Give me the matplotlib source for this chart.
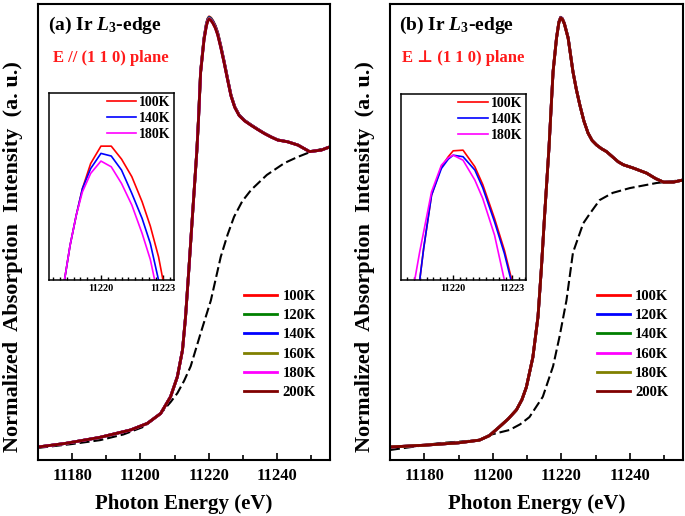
import numpy as np
import matplotlib
matplotlib.use('Agg')
import matplotlib.pyplot as plt
from matplotlib.ticker import MultipleLocator, AutoMinorLocator

plt.rcParams['font.family'] = ['Liberation Serif', 'DejaVu Serif']
plt.rcParams['font.weight'] = 'bold'
plt.rcParams['mathtext.fontset'] = 'custom'
plt.rcParams['mathtext.rm'] = 'Liberation Serif:bold'
plt.rcParams['mathtext.it'] = 'Liberation Serif:italic:bold'
plt.rcParams['mathtext.bf'] = 'Liberation Serif:bold'

# --- Daten ---
# (a) E // (1 1 0)
energy_a = [11170.0, 11178.0, 11188.0, 11197.1, 11202.0, 11205.9, 11208.8, 11210.8,
            11212.3, 11213.2, 11214.2, 11215.2, 11216.5, 11217.0, 11217.6, 11218.6,
            11219.3, 11219.7, 11220.1, 11220.6, 11221.2, 11221.9, 11222.6, 11223.5,
            11224.5, 11225.5, 11226.5, 11227.6, 11228.9, 11230.5, 11232.4, 11234.3,
            11236.3, 11238.3, 11240.2, 11243.1, 11246.1, 11249.5, 11252.9, 11255.5]
mu_a = [0.000, 0.012, 0.032, 0.057, 0.079, 0.112, 0.168, 0.235,
        0.324, 0.436, 0.600, 0.770, 0.990, 1.100, 1.255, 1.367,
        1.415, 1.431, 1.438, 1.434, 1.424, 1.408, 1.385, 1.342,
        1.289, 1.232, 1.177, 1.138, 1.110, 1.092, 1.077, 1.063,
        1.049, 1.037, 1.027, 1.021, 1.010, 0.988, 0.993, 1.004]
step_energy_a = [11170.0, 11180.0, 11188.2, 11195.0, 11201.0, 11205.9, 11208.8, 11210.8,
                 11212.8, 11214.7, 11217.6, 11220.6, 11223.5, 11225.5, 11227.4, 11229.8,
                 11232.4, 11237.0, 11242.2, 11246.0, 11250.0, 11255.5]
step_a = [-0.003, 0.010, 0.023, 0.042, 0.068, 0.112, 0.150, 0.180,
          0.222, 0.270, 0.380, 0.490, 0.636, 0.710, 0.770, 0.822,
          0.860, 0.910, 0.950, 0.970, 0.988, 1.004]

# (b) E senkrecht (1 1 0)
energy_b = [11170.0, 11180.0, 11190.0, 11196.1, 11199.0, 11202.0, 11204.5, 11206.9,
            11208.5, 11209.8, 11211.7, 11213.2, 11214.2, 11215.1, 11216.4, 11217.6,
            11218.6, 11219.3, 11219.8, 11220.3, 11220.9, 11222.0, 11223.4, 11224.4,
            11225.4, 11226.6, 11227.8, 11229.0, 11230.3, 11231.7, 11233.2, 11235.0,
            11236.6, 11238.1, 11241.0, 11244.9, 11247.5, 11249.8, 11252.7, 11255.5]
mu_b = [0.000, 0.006, 0.014, 0.023, 0.038, 0.068, 0.094, 0.124,
        0.158, 0.200, 0.300, 0.436, 0.600, 0.770, 1.000, 1.255,
        1.367, 1.420, 1.435, 1.431, 1.415, 1.367, 1.255, 1.195,
        1.144, 1.090, 1.050, 1.025, 1.010, 0.998, 0.988, 0.970,
        0.954, 0.944, 0.933, 0.916, 0.898, 0.886, 0.886, 0.893]
step_energy_b = [11170.0, 11184.4, 11196.1, 11199.0, 11204.9, 11208.0, 11210.7, 11214.6,
                 11217.6, 11219.5, 11221.5, 11223.4, 11226.4, 11228.3, 11231.2, 11235.0,
                 11240.0, 11247.8, 11255.5]
step_b = [-0.010, 0.013, 0.023, 0.040, 0.057, 0.076, 0.100, 0.168,
          0.270, 0.370, 0.490, 0.650, 0.748, 0.780, 0.826, 0.850,
          0.866, 0.883, 0.893]

temps = ['100K', '120K', '140K', '160K', '180K', '200K']
colors_a = ['#ff0000', '#008000', '#0000ff', '#808000', '#ff00ff', '#800000']
colors_b = ['#ff0000', '#0000ff', '#008000', '#ff00ff', '#808000', '#800000']
# Maximum der White-Line je Temperatur
peak_a = [1.439, 1.4375, 1.436, 1.434, 1.432, 1.431]
peak_b = [1.4375, 1.437, 1.4355, 1.435, 1.4352, 1.435]

# Inset-Daten (Bereich um das Maximum)
inset_temps = ['100K', '140K', '180K']
inset_colors = ['#ff0000', '#0000ff', '#ff00ff']
inset_energy_a = [11218.2, 11218.5, 11218.8, 11219.1, 11219.5, 11220.0, 11220.5,
                  11221.0, 11221.5, 11222.0, 11222.4, 11222.8, 11223.1]
inset_a = [
    [1.3765, 1.3939, 1.4076, 1.4197, 1.4311, 1.4390, 1.4390, 1.4331, 1.4251, 1.4137, 1.4026, 1.3886, 1.3739],
    [1.3765, 1.3939, 1.4076, 1.4197, 1.4288, 1.4357, 1.4345, 1.4281, 1.4175, 1.4061, 1.3947, 1.3780, 1.3666],
    [1.3765, 1.3939, 1.4076, 1.4182, 1.4266, 1.4322, 1.4296, 1.4220, 1.4122, 1.3993, 1.3874, 1.3697, 1.3575],
]
inset_energy_b = [11218.0, 11218.3, 11218.5, 11218.9, 11219.4, 11219.75, 11220.0,
                  11220.5, 11221.1, 11221.5, 11222.1, 11222.6, 11223.0]
inset_b = [
    [1.3696, 1.3780, 1.3925, 1.4169, 1.4299, 1.4345, 1.4372, 1.4375, 1.4299, 1.4218, 1.4062, 1.3917, 1.3772],
    [1.3696, 1.3780, 1.3925, 1.4169, 1.4291, 1.4334, 1.4352, 1.4345, 1.4284, 1.4203, 1.4047, 1.3902, 1.3757],
    [1.3757, 1.3910, 1.4001, 1.4184, 1.4306, 1.4340, 1.4352, 1.4329, 1.4238, 1.4154, 1.3986, 1.3780, 1.3635],
]

fig = plt.figure(figsize=(6.85, 5.16), dpi=100)


def panel(rect, inset_rect, energy, mu, step_e, step, colors, peaks,
          ie, idata, ixlim, title, subtitle, tx, sx):
    ax = fig.add_axes(rect)
    mu = np.array(mu)
    ref = mu.max()
    w = np.clip((mu - 1) / (ref - 1), 0, None)
    ax.plot(step_e, step, color='black', lw=1.5, ls=(0, (4.8, 1.9)))
    for t, c, p in zip(temps, colors, peaks):
        ax.plot(energy, mu + (p - ref) * w, color=c, lw=2.0, label=t)
    ax.set_xlim(11170, 11255.5)
    ax.set_ylim(-0.0435, 1.4816)
    ax.set_yticks([])
    ax.xaxis.set_major_locator(MultipleLocator(20))
    ax.xaxis.set_minor_locator(AutoMinorLocator(2))
    ax.tick_params(axis='x', which='major', direction='in', length=5, width=1.2,
                   labelsize=12, pad=6)
    ax.tick_params(axis='x', which='minor', direction='in', length=3.5, width=1.2)
    for s in ax.spines.values():
        s.set_linewidth(1.5)
    ax.set_xlabel('Photon Energy (eV)', fontsize=15, fontweight='bold', labelpad=7)
    ax.set_ylabel('Normalized  Absorption  Intensity  (a. u.)', fontsize=16,
                  fontweight='bold')
    ax.yaxis.set_label_coords(-0.05, 0.447)
    ax.text(tx, 0.943, title, transform=ax.transAxes, fontsize=14,
            fontweight='bold', va='baseline')
    ax.text(sx, 0.8816, subtitle, transform=ax.transAxes, fontsize=12,
            fontweight='bold', color='#ff1a1a', va='center')
    ax.legend(loc='upper left', bbox_to_anchor=(0.705, 0.374), frameon=False,
              fontsize=10.5, handlelength=2.3, handletextpad=0.35,
              labelspacing=0.42, borderpad=0, borderaxespad=0)

    ins = fig.add_axes(inset_rect)
    for t, c, y in zip(inset_temps, inset_colors, idata):
        ins.plot(ie, y, color=c, lw=1.2, label=t)
    ins.set_xlim(*ixlim)
    ins.set_ylim(1.378, 1.463)
    ins.set_yticks([])
    ins.xaxis.set_major_locator(MultipleLocator(3))
    ins.xaxis.set_minor_locator(AutoMinorLocator(9))
    ins.tick_params(axis='x', which='major', direction='in', length=3.5, width=1,
                    labelsize=7.5, pad=2.5)
    ins.tick_params(axis='x', which='minor', direction='in', length=2, width=1)
    ins.xaxis.set_major_formatter(plt.FuncFormatter(lambda v, p: '%d' % v))
    for s in ins.spines.values():
        s.set_linewidth(1.1)
    ins.legend(loc='upper left', bbox_to_anchor=(0.46, 0.985), frameon=False,
               fontsize=10, handlelength=2.1, handletextpad=0.25,
               labelspacing=0.22, borderpad=0, borderaxespad=0)
    return ax


panel([0.0555, 0.1085, 0.4263, 0.8837], [0.072, 0.457, 0.182, 0.362],
      energy_a, mu_a, step_energy_a, step_a, colors_a, peak_a,
      inset_energy_a, inset_a, (11217.49, 11223.55),
      r'(a) Ir $L_3$-edge', 'E // (1 1 0) plane', 0.034, 0.051)
panel([0.5693, 0.1085, 0.4277, 0.8837], [0.5854, 0.457, 0.182, 0.360],
      energy_b, mu_b, step_energy_b, step_b, colors_b, peak_b,
      inset_energy_b, inset_b, (11217.35, 11223.68),
      r'(b) Ir $L_3$-edge', 'E \u22a5 (1 1 0) plane', 0.032, 0.040)

fig.savefig('out.png', dpi=100)
